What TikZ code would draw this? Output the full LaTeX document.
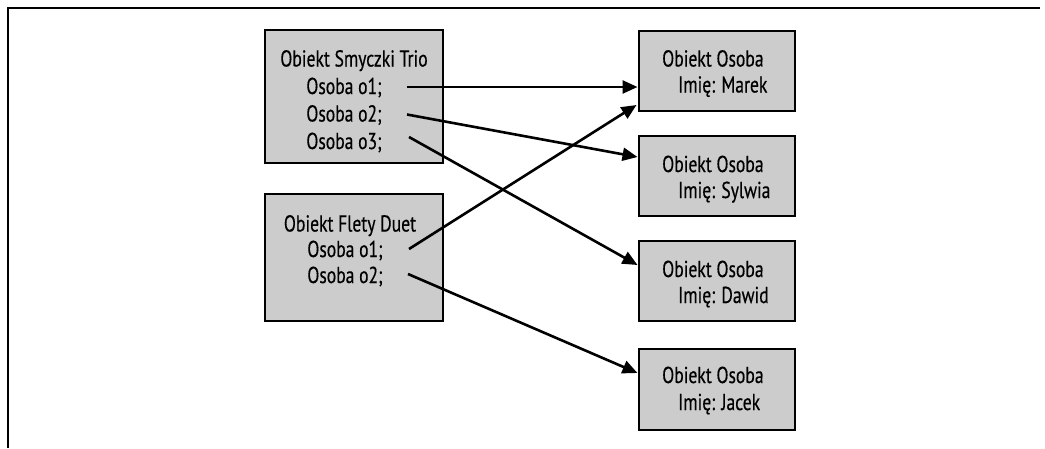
\documentclass[tikz,border=0pt]{standalone}
\usepackage{fontspec}
\setmainfont{PT Sans}[FakeStretch=0.765, FakeBold=0.4]
\usetikzlibrary{arrows.meta}
\definecolor{boxgray}{HTML}{CCCCCC}

\begin{document}
\begin{tikzpicture}[x=1pt,y=-1pt,
  objbox/.style={draw=black, line width=2.8pt, fill=boxgray, inner sep=0pt,
                 outer sep=0pt, anchor=north west},
  lbl/.style={font=\fontsize{23}{27}\selectfont, inner sep=0pt, anchor=base},
  lblw/.style={lbl, anchor=base west},
  ref/.style={line width=2.6pt, -{Triangle[length=15pt,width=13pt]}},
]
\useasboundingbox (0,0) rectangle (1045,448);

% open frame: top and left edges only
\draw[line width=2.8pt] (8,448) -- (8,8) -- (1040,8);

% ---- objects holding references ----
\node[objbox, minimum width=178pt, minimum height=133pt] (trio) at (265,30) {};
\node[lbl] (trioT) at (354,66.5) {Obiekt Smyczki Trio};
\node[lbl] (trio1) at (344,94) {Osoba o1;};
\node[lbl] (trio2) at (344,121.5) {Osoba o2;};
\node[lbl] (trio3) at (344,149) {Osoba o3;};

\node[objbox, minimum width=178pt, minimum height=127pt] (duet) at (265,194) {};
\node[lbl] (duetT) at (350,231.5) {Obiekt Flety Duet};
\node[lbl] (duet1) at (345,257) {Osoba o1;};
\node[lbl] (duet2) at (345,283) {Osoba o2;};

% ---- referenced person objects ----
\node[objbox, minimum width=156pt, minimum height=80pt] (marek) at (639,31) {};
\node[lblw] (marekT) at (662,66.5) {Obiekt Osoba};
\node[lblw] (marekN) at (678,92.5) {Imię: Marek};

\node[objbox, minimum width=156pt, minimum height=80pt] (sylwia) at (639,136) {};
\node[lblw] (sylwiaT) at (662,172) {Obiekt Osoba};
\node[lblw] (sylwiaN) at (678,198) {Imię: Sylwia};

\node[objbox, minimum width=156pt, minimum height=80pt] (dawid) at (639,241) {};
\node[lblw] (dawidT) at (662,277) {Obiekt Osoba};
\node[lblw] (dawidN) at (678,303) {Imię: Dawid};

\node[objbox, minimum width=156pt, minimum height=81pt] (jacek) at (639,349) {};
\node[lblw] (jacekT) at (662,383) {Obiekt Osoba};
\node[lblw] (jacekN) at (678,410) {Imię: Jacek};

% ---- reference start points (just right of each field) ----
\coordinate (r1) at ([xshift=63pt, yshift=7pt]trio1.base);
\coordinate (r2) at ([xshift=63pt, yshift=7pt]trio2.base);
\coordinate (r3) at ([xshift=65pt, yshift=12pt]trio3.base);
\coordinate (d1) at ([xshift=64pt, yshift=8pt]duet1.base);
\coordinate (d2) at ([xshift=63pt, yshift=9pt]duet2.base);

% ---- reference end points on the person boxes ----
\coordinate (eM1) at ([xshift=-1.5pt, yshift=-56pt]marek.north west);
\coordinate (eM2) at ([xshift=-2.5pt, yshift=-74pt]marek.north west);
\coordinate (eS)  at ([xshift=-1.5pt, yshift=-21pt]sylwia.north west);
\coordinate (eD)  at ([xshift=-1.5pt, yshift=-24pt]dawid.north west);
\coordinate (eJ)  at ([xshift=-1.5pt, yshift=-24pt]jacek.north west);

\draw[ref] (r1) -- (eM1);
\draw[ref] (r2) -- (eS);
\draw[ref] (r3) -- (eD);
\draw[ref] (d1) -- (eM2);
\draw[ref] (d2) -- (eJ);
\end{tikzpicture}
\end{document}
